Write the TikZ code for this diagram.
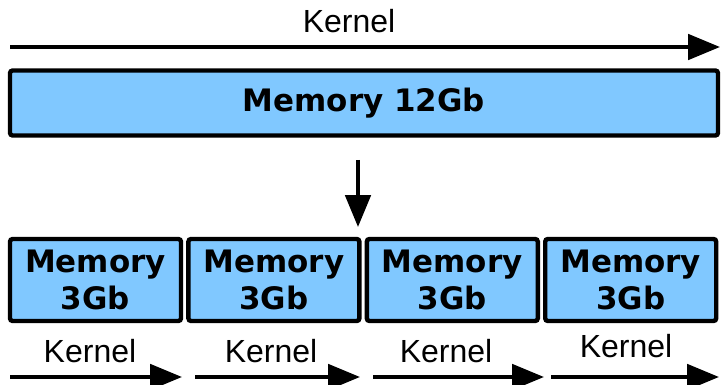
\documentclass[tikz,border=0pt]{standalone}
\usepackage{fontspec}
\setmainfont{Liberation Sans}
\newfontfamily\memfont{DejaVu Sans}
\usetikzlibrary{positioning, arrows.meta}
\definecolor{memblue}{RGB}{128,200,255}

\begin{document}
\begin{tikzpicture}[
  x=0.75pt, y=-0.75pt,
  membox/.style={draw, line width=3.3pt, fill=memblue, rounded corners=2pt,
    inner sep=0pt, align=center,
    font=\memfont\bfseries\fontsize{23.2}{27.5}\selectfont},
  kernel/.style={anchor=base, font=\fontsize{24}{28}\selectfont},
  arrow/.style={-{Triangle[length=24pt, width=19pt]}, line width=3pt}
]
\useasboundingbox (0,0) rectangle (722,385);

% Top: whole kernel over whole memory
\node[kernel] (ktop) at (349,33) {Kernel};
\coordinate (ktopstart) at (10,47);
\coordinate (ktopend) at (720,47);
\draw[arrow] (ktopstart) -- (ktopend);

\node[membox, minimum width=531pt, minimum height=48.75pt] (mem) at (364,103)
  {Memory 12Gb};

% Split arrow
\coordinate (splitstart) at (358,160);
\coordinate (splitend) at (358,227);
\draw[arrow] (splitstart) -- (splitend);

% Bottom: four memory parts
\node[membox, minimum width=128.25pt, minimum height=61.5pt] (mem1) at (95.5,280)
  {Memory\\3Gb};
\node[membox, minimum width=128.25pt, minimum height=61.5pt, right=2.25pt of mem1] (mem2)
  {Memory\\3Gb};
\node[membox, minimum width=128.25pt, minimum height=61.5pt, right=2.25pt of mem2] (mem3)
  {Memory\\3Gb};
\node[membox, minimum width=128.25pt, minimum height=61.5pt, right=2.25pt of mem3] (mem4)
  {Memory\\3Gb};

% Kernels for each part
\node[kernel] (k1) at (90,362) {Kernel};
\node[kernel] (k2) at (271,362) {Kernel};
\node[kernel] (k3) at (446,362) {Kernel};
\node[kernel] (k4) at (626,357) {Kernel};

\coordinate (k1start) at (10,377);
\coordinate (k1end) at (182,377);
\coordinate (k2start) at (195,377);
\coordinate (k2end) at (360,377);
\coordinate (k3start) at (373,377);
\coordinate (k3end) at (544,377);
\coordinate (k4start) at (551,377);
\coordinate (k4end) at (719,377);

\draw[arrow] (k1start) -- (k1end);
\draw[arrow] (k2start) -- (k2end);
\draw[arrow] (k3start) -- (k3end);
\draw[arrow] (k4start) -- (k4end);

\end{tikzpicture}
\end{document}
